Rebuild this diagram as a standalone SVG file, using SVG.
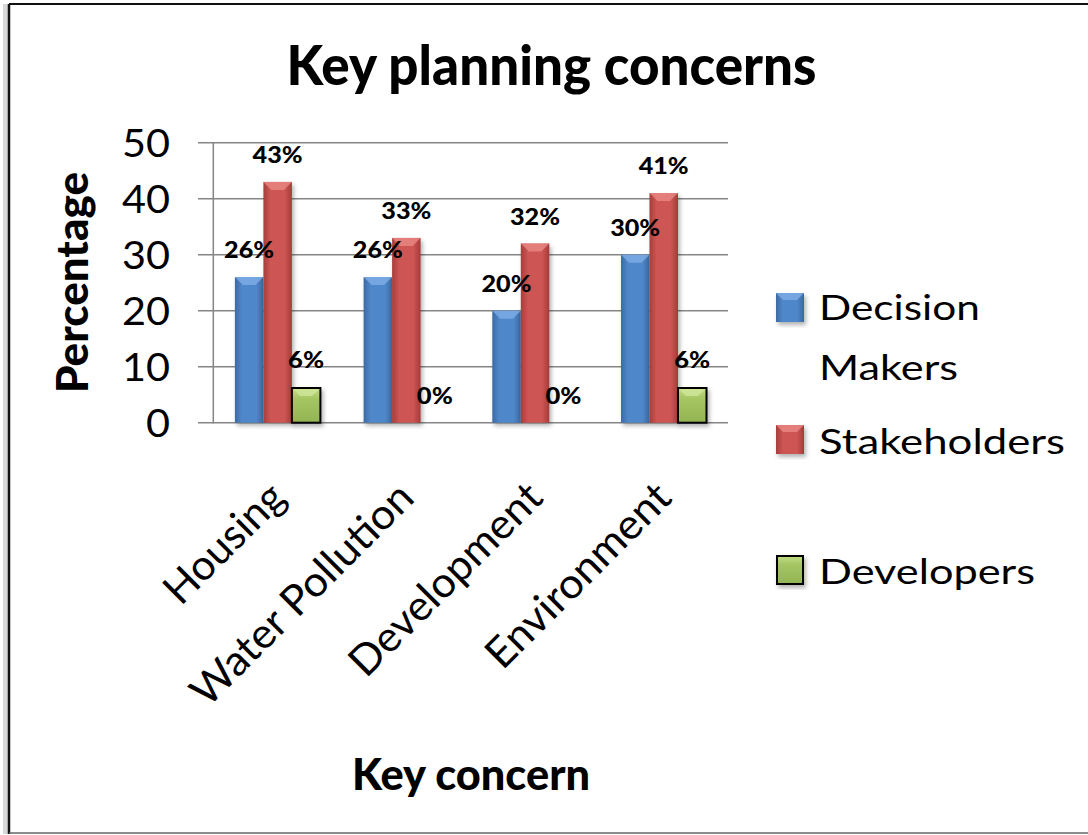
<svg xmlns="http://www.w3.org/2000/svg" width="1088" height="835" viewBox="0 0 1088 835">
<style>
.t{font-family:Lato,"Liberation Sans",sans-serif;fill:#000}
.b{font-weight:bold}
.grid{stroke:#868686;stroke-width:1.5}
.dl{font-family:Lato,"Liberation Sans",sans-serif;font-weight:900;font-size:22.5px;text-anchor:middle}
.tick{font-family:Lato,"Liberation Sans",sans-serif;font-size:38px;text-anchor:end}
.cat{font-family:Lato,"Liberation Sans",sans-serif;font-size:42px;text-anchor:end}
.leg{font-family:Lato,"Liberation Sans",sans-serif;font-size:35px}
.blue{fill:url(#gBlue)}
.red{fill:url(#gRed)}
.green{fill:url(#gGreen);stroke:#000;stroke-width:2}
.bvB{fill:#7FAEE6;opacity:.8}
.bvR{fill:#E88886;opacity:.8}
.bvG{fill:#CFE69A;opacity:.8}
</style>
<defs>
<linearGradient id="gBlue" x1="0" y1="0" x2="1" y2="0">
<stop offset="0" stop-color="#3C6AA3"/><stop offset="0.25" stop-color="#5088CA"/><stop offset="0.75" stop-color="#5088CA"/><stop offset="1" stop-color="#3A679F"/>
</linearGradient>
<linearGradient id="gRed" x1="0" y1="0" x2="1" y2="0">
<stop offset="0" stop-color="#A63E3B"/><stop offset="0.25" stop-color="#CD5552"/><stop offset="0.75" stop-color="#CD5552"/><stop offset="1" stop-color="#A33B39"/>
</linearGradient>
<linearGradient id="gGreen" x1="0" y1="0" x2="0" y2="1">
<stop offset="0" stop-color="#C4DE84"/><stop offset="0.3" stop-color="#A5C663"/><stop offset="1" stop-color="#93B452"/>
</linearGradient>
<filter id="sh" x="-30%" y="-10%" width="160%" height="130%">
<feDropShadow dx="2" dy="3" stdDeviation="2" flood-color="#000" flood-opacity="0.3"/>
</filter>
</defs>
<rect x="0" y="0" width="1088" height="835" fill="#fff"/>
<g id="frame">
<rect x="3" y="4" width="6" height="830" fill="#d8d8d8"/>
<line x1="9" y1="4" x2="1088" y2="4" stroke="#111" stroke-width="2"/>
<line x1="9" y1="4" x2="9" y2="834" stroke="#111" stroke-width="2.5"/>
<line x1="9" y1="833" x2="1088" y2="833" stroke="#666" stroke-width="1.5"/>
</g>
<g id="title"><text class="t" font-weight="900" x="551.5" y="85" font-size="56" text-anchor="middle" textLength="530" lengthAdjust="spacingAndGlyphs">Key planning concerns</text></g>
<g id="grid">
<line class="grid" x1="198" y1="142.7" x2="728" y2="142.7"/>
<line class="grid" x1="198" y1="198.7" x2="728" y2="198.7"/>
<line class="grid" x1="198" y1="254.7" x2="728" y2="254.7"/>
<line class="grid" x1="198" y1="310.7" x2="728" y2="310.7"/>
<line class="grid" x1="198" y1="366.7" x2="728" y2="366.7"/>
<line class="grid" x1="198" y1="422.7" x2="728" y2="422.7"/>
<line class="grid" x1="213.3" y1="142" x2="213.3" y2="423.5"/>
</g>
<g id="y-axis">
<text class="tick" x="170" y="157" textLength="48" lengthAdjust="spacingAndGlyphs">50</text>
<text class="tick" x="170" y="213" textLength="48" lengthAdjust="spacingAndGlyphs">40</text>
<text class="tick" x="170" y="269" textLength="48" lengthAdjust="spacingAndGlyphs">30</text>
<text class="tick" x="170" y="325" textLength="48" lengthAdjust="spacingAndGlyphs">20</text>
<text class="tick" x="170" y="381" textLength="48" lengthAdjust="spacingAndGlyphs">10</text>
<text class="tick" x="170" y="437" textLength="24" lengthAdjust="spacingAndGlyphs">0</text>
<text class="t" font-weight="900" font-size="43" text-anchor="middle" transform="translate(88,282.5) rotate(-90)" textLength="221" lengthAdjust="spacingAndGlyphs">Percentage</text>
</g>
<g id="series-decision-makers" filter="url(#sh)">
<rect class="blue" x="234.9" y="277.1" width="28.5" height="145.6"/>
<rect class="blue" x="363.6" y="277.1" width="28.5" height="145.6"/>
<rect class="blue" x="492.3" y="310.7" width="28.5" height="112"/>
<rect class="blue" x="621.0" y="254.7" width="28.5" height="168"/>
</g>
<g id="series-stakeholders" filter="url(#sh)">
<rect class="red" x="263.4" y="181.9" width="28.5" height="240.8"/>
<rect class="red" x="392.1" y="237.9" width="28.5" height="184.8"/>
<rect class="red" x="520.8" y="243.5" width="28.5" height="179.2"/>
<rect class="red" x="649.5" y="193.1" width="28.5" height="229.6"/>
</g>
<g id="series-developers" filter="url(#sh)">
<rect class="green" x="291.9" y="388" width="28.5" height="34.7"/>
<rect class="green" x="678.0" y="388" width="28.5" height="34.7"/>
</g>
<g id="bevels">
<polygon class="bvB" points="234.9,277.1 263.4,277.1 255.4,285.1 242.9,285.1"/>
<polygon class="bvB" points="363.6,277.1 392.1,277.1 384.1,285.1 371.6,285.1"/>
<polygon class="bvB" points="492.3,310.7 520.8,310.7 512.8,318.7 500.3,318.7"/>
<polygon class="bvB" points="621.0,254.7 649.5,254.7 641.5,262.7 629.0,262.7"/>
<polygon class="bvR" points="263.4,181.9 291.9,181.9 283.9,189.9 271.4,189.9"/>
<polygon class="bvR" points="392.1,237.9 420.6,237.9 412.6,245.9 400.1,245.9"/>
<polygon class="bvR" points="520.8,243.5 549.3,243.5 541.3,251.5 528.8,251.5"/>
<polygon class="bvR" points="649.5,193.1 678.0,193.1 670.0,201.1 657.5,201.1"/>
<polygon class="bvG" points="293,389 319.4,389 312,396 300,396"/>
<polygon class="bvG" points="679,389 705.5,389 698,396 686,396"/>
</g>
<g id="data-labels">
<text class="dl" x="249.1" y="258.1" textLength="50" lengthAdjust="spacingAndGlyphs">26%</text>
<text class="dl" x="277.6" y="162.9" textLength="50" lengthAdjust="spacingAndGlyphs">43%</text>
<text class="dl" x="306.1" y="368.4" textLength="36" lengthAdjust="spacingAndGlyphs">6%</text>
<text class="dl" x="377.8" y="258.1" textLength="50" lengthAdjust="spacingAndGlyphs">26%</text>
<text class="dl" x="406.3" y="218.9" textLength="50" lengthAdjust="spacingAndGlyphs">33%</text>
<text class="dl" x="434.8" y="403.7" textLength="36" lengthAdjust="spacingAndGlyphs">0%</text>
<text class="dl" x="506.5" y="291.7" textLength="50" lengthAdjust="spacingAndGlyphs">20%</text>
<text class="dl" x="535.0" y="224.5" textLength="50" lengthAdjust="spacingAndGlyphs">32%</text>
<text class="dl" x="563.5" y="403.7" textLength="36" lengthAdjust="spacingAndGlyphs">0%</text>
<text class="dl" x="635.2" y="235.7" textLength="50" lengthAdjust="spacingAndGlyphs">30%</text>
<text class="dl" x="663.7" y="174.1" textLength="50" lengthAdjust="spacingAndGlyphs">41%</text>
<text class="dl" x="692.2" y="368.4" textLength="36" lengthAdjust="spacingAndGlyphs">6%</text>
</g>
<g id="x-axis">
<text class="cat" transform="translate(287.6,500) rotate(-45)" textLength="151" lengthAdjust="spacingAndGlyphs">Housing</text>
<text class="cat" transform="translate(416.3,500) rotate(-45)" textLength="295" lengthAdjust="spacingAndGlyphs">Water Pollution</text>
<text class="cat" transform="translate(545.0,500) rotate(-45)" textLength="253" lengthAdjust="spacingAndGlyphs">Development</text>
<text class="cat" transform="translate(673.7,500) rotate(-45)" textLength="242" lengthAdjust="spacingAndGlyphs">Environment</text>
<text class="t" font-weight="900" x="471" y="790" font-size="43" text-anchor="middle" textLength="238" lengthAdjust="spacingAndGlyphs">Key concern</text>
</g>
<g id="legend">
<g id="legend-decision-makers">
<rect class="blue" x="776" y="293" width="28" height="29" filter="url(#sh)"/>
<polygon class="bvB" points="776,293 804,293 797,300 783,300"/>
<text class="leg" x="819" y="320" textLength="161" lengthAdjust="spacingAndGlyphs">Decision</text>
<text class="leg" x="819" y="380" textLength="139" lengthAdjust="spacingAndGlyphs">Makers</text>
</g>
<g id="legend-stakeholders">
<rect class="red" x="776" y="425" width="28" height="29" filter="url(#sh)"/>
<polygon class="bvR" points="776,425 804,425 797,432 783,432"/>
<text class="leg" x="819" y="454" textLength="246" lengthAdjust="spacingAndGlyphs">Stakeholders</text>
</g>
<g id="legend-developers">
<rect class="green" x="777" y="556" width="26" height="28" filter="url(#sh)"/>
<text class="leg" x="819" y="584" textLength="216" lengthAdjust="spacingAndGlyphs">Developers</text>
</g>
</g>
</svg>
